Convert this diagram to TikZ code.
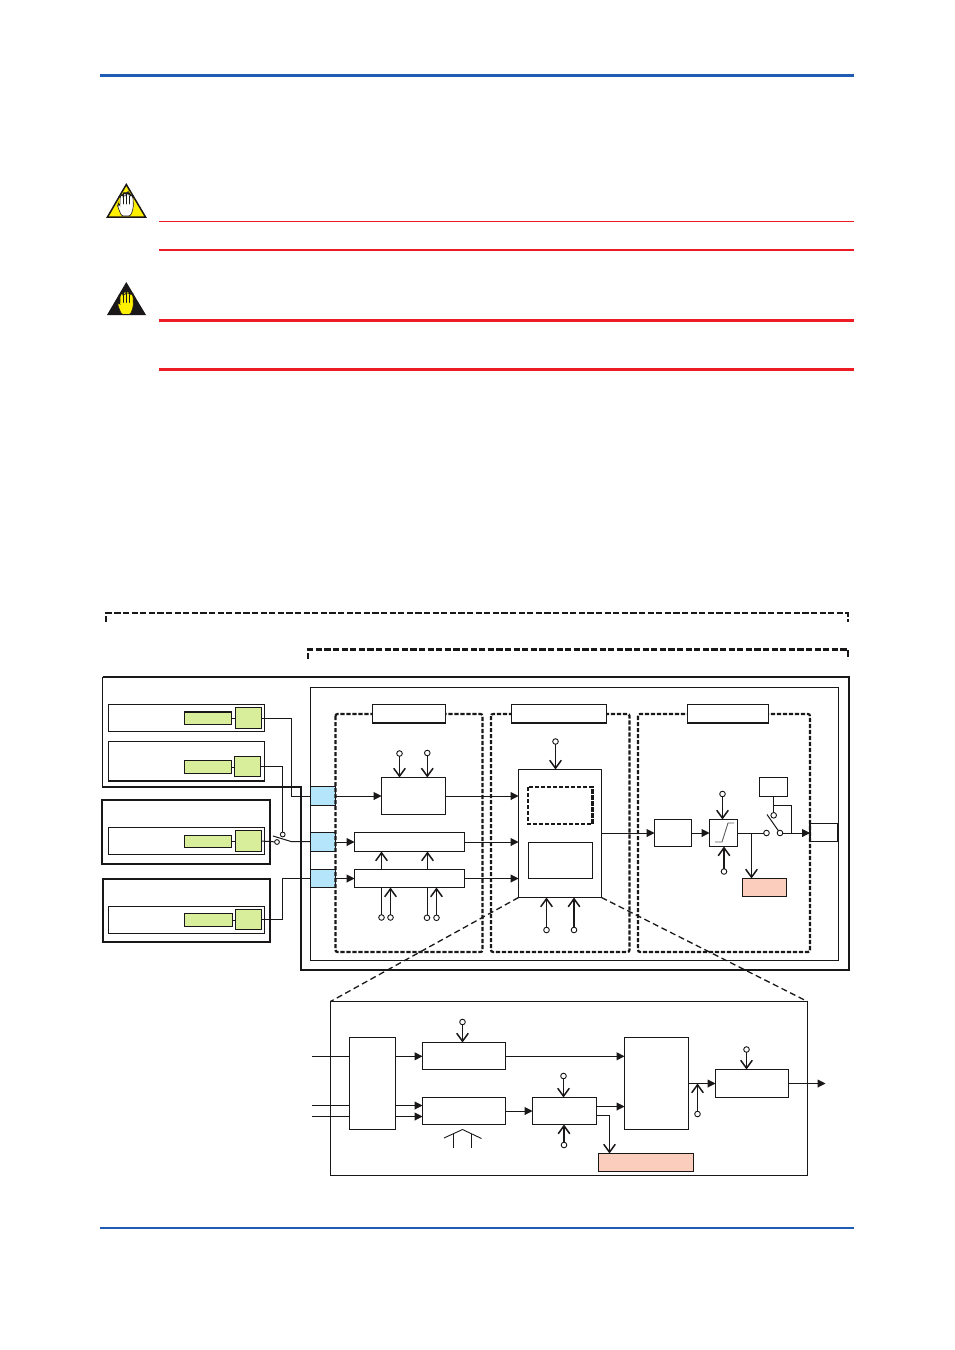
\documentclass[tikz,border=0pt]{standalone}
\usetikzlibrary{arrows.meta}
\definecolor{rulered}{HTML}{ED1C24}
\definecolor{ruleblue}{HTML}{1F5DB5}
\definecolor{inkdark}{HTML}{1A1718}
\definecolor{signyellow}{HTML}{FFF000}
\definecolor{portblue}{HTML}{B5E5FB}
\definecolor{sourcegreen}{HTML}{D9EE9A}
\definecolor{alarmpink}{HTML}{FBCDBC}
\tikzset{
  block/.style={draw=inkdark,line width=.55pt,inner sep=0pt,outer sep=0pt,rectangle,fill=white},
  thinblock/.style={block,line width=.45pt},
  port/.style={block,fill=portblue},
  srcsmall/.style={block,fill=sourcegreen},
  srcbig/.style={block,fill=sourcegreen},
  alarm/.style={block,fill=alarmpink},
  terminal/.style={circle,draw=inkdark,fill=white,line width=.45pt,inner sep=0pt,outer sep=0pt,minimum size=2.8pt},
  wire/.style={draw=inkdark,line width=.5pt},
  feed/.style={wire,-{Triangle[length=4pt,width=4pt]}},
  tap/.style={draw=inkdark,line width=.75pt,-{Straight Barb[length=4pt,width=5.8pt,line width=.75pt]}},
  heavydash/.style={draw=inkdark,line width=1.25pt,dash pattern=on 3.1pt off 1.2pt},
  boxdash/.style={draw=inkdark,line width=1.1pt,dash pattern=on 2.1pt off .9pt,rounded corners=1pt},
  zoomdash/.style={draw=inkdark,line width=.65pt,dash pattern=on 3pt off 1.8pt},
  frame/.style={draw=inkdark,line width=1pt},
}
% A rectangle given by its two corners, in picture units
\newcommand{\blockbox}[6][]{%
  \node[block,#1,minimum width={(#5-#3)*0.5pt},minimum height={(#6-#4)*0.5pt}]
    (#2) at ({(#3+#5)/2},{(#4+#6)/2}) {};}
% A raised hand; origin at the tip of the middle finger
\newcommand{\handmark}[4]{%
  \begin{scope}[shift={(#1,#2)},yscale=#4]
    \draw[fill=#3,draw=inkdark,line width=.3pt,rounded corners=1.1pt]
      (-4.5,23)--(-8.5,13)--(-7.6,10.5)--(-6,13)--(-5.8,3)--(-4.2,2)--(-2.8,2.5)
      --(-2.5,0.5)--(-0.8,0)--(0.6,0.6)--(1,0)--(3,0)--(3.8,2)--(5.4,2)--(7,4)--(7.4,15)--(4.5,23)--cycle;
    \draw[draw=inkdark,line width=.45pt,line cap=round]
      (-2.6,3)--(-2.6,11) (0.7,1.5)--(0.7,11) (3.8,3)--(3.8,11);
  \end{scope}}
\begin{document}
\begin{tikzpicture}[x=0.5pt,y=-0.5pt]
\useasboundingbox[fill=white] (0,0) rectangle (954,1350);

% Page rules
\draw[ruleblue,line width=1.5pt] (100,75)--(854,75);
\draw[ruleblue,line width=1pt] (100,1228)--(854,1228);
\draw[rulered,line width=.4pt] (159,221.5)--(854,221.5);
\draw[rulered,line width=1pt] (159,250)--(854,250);
\draw[rulered,line width=1.5pt] (159,320.5)--(854,320.5);
\draw[rulered,line width=1.5pt] (159,369.5)--(854,369.5);

% Warning signs
\draw[fill=signyellow,draw=inkdark,line width=.75pt,line join=miter] (126.3,184.5)--(107.5,217)--(145.5,217)--cycle;
\handmark{126}{193}{white}{1}
\fill[inkdark] (126.3,282)--(107,315)--(146,315)--cycle;
\handmark{126}{291.5}{signyellow}{1}

% Scope brackets
\draw[heavydash] (106,622)--(106,613.2)--(848,613.2)--(848,622);
\draw[heavydash] (308,659)--(308,649.5)--(848,649.5)--(848,659);

% Enclosures of the sensor and output sections
\draw[frame] (102.7,677)--(849,677)--(849,969.5)--(301,969.5)--(301,787)--(102.7,787);
\draw[draw=inkdark,line width=.7pt] (102.7,787.5)--(102.7,676.5);
\blockbox[thinblock]{inner}{310.5}{687.5}{838}{960}
\blockbox[frame,fill=none]{frameC}{102}{800}{270}{864}
\blockbox[fill=none,line width=.7pt]{frameD}{103}{879}{270}{942}

% Sources
\blockbox{srcA}{108.5}{704.5}{264.5}{731.5}
\blockbox{srcB}{108.5}{741.5}{264.5}{781}
\blockbox{srcC}{108.5}{827.5}{264.5}{854.5}
\blockbox{srcD}{108.5}{906.5}{264.5}{933.5}
\blockbox[srcsmall]{gA}{184.5}{712}{231.5}{724.5}
\blockbox[srcbig]{hA}{235.5}{707.5}{261.5}{728.5}
\blockbox[srcsmall]{gB}{184.5}{760.5}{231.5}{773.5}
\blockbox[srcbig]{hB}{234.5}{756.5}{260.5}{776.5}
\blockbox[srcsmall]{gC}{184.5}{835.5}{231.5}{847.5}
\blockbox[srcbig]{hC}{235.5}{830.5}{261.5}{851.5}
\blockbox[srcsmall]{gD}{184.5}{913.5}{232.5}{926.5}
\blockbox[srcbig]{hD}{235.5}{909.5}{261.5}{929.5}
\draw[wire] (gA.east)--(hA.west |- gA.east);
\draw[wire] (gB.east)--(hB.west |- gB.east);
\draw[wire] (gC.east)--(hC.west |- gC.east);
\draw[wire] (gD.east)--(hD.west |- gD.east);

% Input ports
\blockbox[port]{p1}{310.5}{786.5}{335.5}{805.5}
\blockbox[port]{p2}{310.5}{832.5}{335.5}{851.5}
\blockbox[port]{p3}{310.5}{869.5}{335.5}{887.5}

% Source wiring
\coordinate (jogA) at (291.5,0);
\coordinate (jogD) at (282.5,0);
\node[terminal,minimum size=2.4pt] (swB) at (282.7,834.5) {};
\node[terminal,minimum size=2.4pt] (swC) at (277,842) {};
\coordinate (swP) at (291,841.5);
\coordinate (swQ) at (273,836);
\draw[wire] (hA.east)--(jogA |- hA.east)--(jogA |- p1.west)--(p1.west);
\draw[wire] (hB.east)--(swB |- hB.east)--(swB);
\draw[wire] (hC.east)--(swC);
\draw[wire] (swQ)--(swP)--(p2.west |- swP);
\draw[wire] (hD.east)--(jogD |- hD.east)--(jogD |- p3.west)--(p3.west);

% Dashed sections with their titles
\draw[boxdash] (335.5,714) rectangle (482.5,952);
\draw[boxdash] (491,714) rectangle (629.5,952);
\draw[boxdash] (638,714) rectangle (810,952);
\blockbox{titleA}{372.5}{704.5}{445.5}{723}
\blockbox{titleB}{511.5}{704.5}{606.5}{723}
\blockbox{titleC}{687.5}{704.5}{768.5}{723}

% First section
\blockbox{a1}{381.5}{777.5}{445.5}{814.5}
\blockbox{a2}{354.5}{832.5}{464.5}{851.5}
\blockbox{a3}{354.5}{869.5}{464.5}{887.5}
\draw[feed] (p1.east)--(a1.west |- p1.east);
\draw[feed] (p2.east)--(a2.west |- p2.east);
\draw[feed] (p3.east)--(a3.west |- p3.east);
\node[terminal] (t1) at (399.5,753.5) {};
\node[terminal] (t2) at (427.3,753) {};
\draw[tap] (t1)--(t1 |- a1.north);
\draw[tap] (t2)--(t2 |- a1.north);
\coordinate (up1) at (381.5,0); \coordinate (up2) at (427.5,0);
\draw[tap] (up1 |- a3.north)--(up1 |- a2.south);
\draw[tap] (up2 |- a3.north)--(up2 |- a2.south);
\node[terminal] (t3) at (381.5,917.5) {};
\node[terminal] (t4) at (390.5,917.5) {};
\node[terminal] (t5) at (427,917.8) {};
\node[terminal] (t6) at (436.5,917.8) {};
\draw[wire] (t3)--(t3 |- a3.south);
\draw[tap] (t4)--(t4 |- a3.south);
\draw[wire] (t5)--(t5 |- a3.south);
\draw[tap] (t6)--(t6 |- a3.south);

% Second section
\blockbox{b}{518.5}{769.5}{601.5}{897.5}
\blockbox[draw=none,fill=none]{bdash}{528}{787}{592.5}{824}
\draw[boxdash,rounded corners=0pt] (bdash.north west) rectangle (bdash.south east);
\blockbox{bsolid}{528.5}{842.5}{592.5}{878.5}
\draw[feed] (a1.east)--(b.west |- a1.east);
\draw[feed] (a2.east)--(b.west |- a2.east);
\draw[feed] (a3.east)--(b.west |- a3.east);
\node[terminal] (t7) at (555.5,741.5) {};
\node[terminal] (t8) at (546.5,930) {};
\node[terminal] (t9) at (574,930) {};
\draw[tap] (t7)--(t7 |- b.north);
\draw[tap] (t8)--(t8 |- b.south);
\draw[tap] (t9)--(t9 |- b.south);

% Third section
\blockbox{c1}{654.5}{819.5}{691.5}{846.5}
\blockbox{c2}{709.5}{819.5}{737.5}{846.5}
\draw[draw=inkdark!70,line width=.45pt] (715,842)--(722,842)--(728,823)--(734,823);
\draw[feed] (b.east |- c1.west)--(c1.west);
\draw[feed] (c1.east)--(c2.west);
\node[terminal] (t10) at (722.5,794) {};
\node[terminal] (t11) at (724,871.5) {};
\draw[tap] (t10)--(t10 |- c2.north);
\draw[tap] (t11)--(t11 |- c2.south);
\node[terminal] (s1) at (766.5,833) {};
\node[terminal] (s2) at (780,833) {};
\node[terminal] (s3) at (773.7,815.3) {};
\coordinate (blade) at (767,814.5);
\draw[wire] (blade)--(s2);
\draw[wire] (c2.east)--(s1);
\blockbox{ctl}{759.5}{777.5}{787.5}{796.5}
\blockbox[fill=none]{out}{810}{823.5}{838}{841.5}
\draw[wire] (ctl.south -| s3)--(s3);
\coordinate (ctlJ) at (773.7,805.5);
\coordinate (ctlK) at (791.5,805.5);
\draw[wire] (ctlJ)--(ctlK)--(ctlK |- s2);
\draw[feed] (s2)--(out.west |- s2);
\blockbox[alarm]{alarmA}{742.5}{878.5}{786.5}{896.5}
\coordinate (drop) at (751.5,833);
\draw[tap] (drop)--(drop |- alarmA.north);

% Detail view of the second section
\blockbox[fill=none,line width=.5pt]{detail}{330.5}{1001.5}{807.5}{1175}
\draw[zoomdash] (b.south west)--(detail.north west);
\draw[zoomdash] (b.south east)--(detail.north east);

\blockbox{f}{349.5}{1037.5}{395.5}{1129.5}
\blockbox{g1}{422.5}{1042.5}{505.5}{1069.5}
\blockbox{g2}{422.5}{1097.5}{505.5}{1124.5}
\blockbox{h}{532.5}{1097.5}{596.5}{1124.5}
\blockbox{j}{624.5}{1037.5}{688.5}{1129.5}
\blockbox{k}{715.5}{1069.5}{788.5}{1097.5}
\blockbox[alarm]{alarmB}{598.5}{1153.5}{693.5}{1171.5}

\coordinate (in1) at (312,1056.3);
\coordinate (in2) at (312,1105.5);
\coordinate (in3) at (312,1116.5);
\draw[wire] (in1)--(f.west |- in1);
\draw[wire] (in2)--(f.west |- in2);
\draw[wire] (in3)--(f.west |- in3);
\draw[feed] (f.east |- in1)--(g1.west |- in1);
\draw[feed] (f.east |- in2)--(g2.west |- in2);
\draw[feed] (f.east |- in3)--(g2.west |- in3);
\draw[feed] (g1.east |- in1)--(j.west |- in1);
\draw[feed] (g2.east)--(h.west);

\node[terminal] (t12) at (462.5,1022) {};
\draw[tap] (t12)--(t12 |- g1.north);
\node[terminal] (t13) at (563.5,1076) {};
\node[terminal] (t14) at (564,1145) {};
\draw[tap] (t13)--(t13 |- h.north);
\draw[tap] (t14)--(t14 |- h.south);

% Roof mark under the lower block
\coordinate (roofTop) at (462.5,1129.5);
\draw[wire,line width=.45pt] (444,1138)--(roofTop)--(481.5,1138.5);
\draw[wire,line width=.45pt] (453.5,1133.8)--(453.5,1147.5);
\draw[wire,line width=.45pt] (471.5,1133.8)--(471.5,1147.5);

\coordinate (hOut) at (596.5,1106.5);
\coordinate (hAlm) at (596.5,1115.5);
\coordinate (hDrop) at (609.5,1115.5);
\draw[feed] (hOut)--(j.west |- hOut);
\draw[wire] (hAlm)--(hDrop);
\draw[tap] (hDrop)--(hDrop |- alarmB.north);

\draw[feed] (j.east |- k.west)--(k.west);
\node[terminal] (t15) at (697.5,1114) {};
\draw[tap] (t15)--(t15 |- k.west);
\node[terminal] (t16) at (746.5,1049.5) {};
\draw[tap] (t16)--(t16 |- k.north);
\coordinate (finalOut) at (825.5,1083.5);
\draw[feed] (k.east)--(finalOut);
\end{tikzpicture}
\end{document}
